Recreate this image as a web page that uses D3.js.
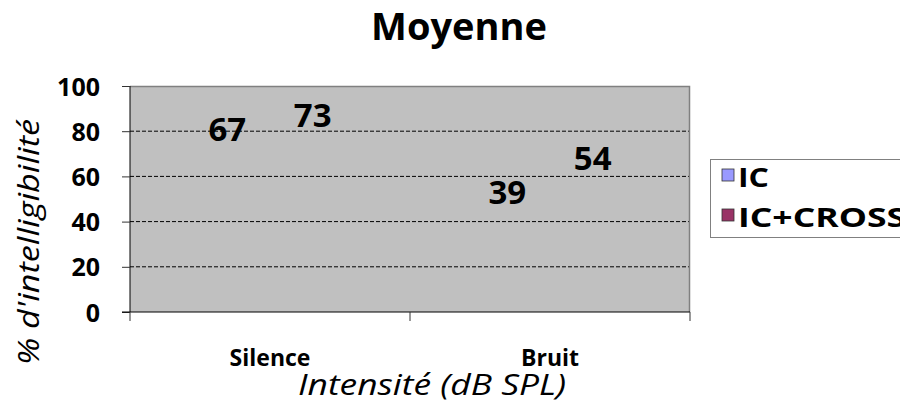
<!DOCTYPE html>
<html>
<head>
<meta charset="utf-8">
<script src="https://cdn.jsdelivr.net/npm/d3@7"></script>
<style>
  body { margin: 0; background: #fff; }
  svg { font-family: 'Open Sans', sans-serif; }
</style>
</head>
<body>
<svg id="chart" width="900" height="404"></svg>
<script>
const categories = ['Silence', 'Bruit'];
const seriesNames = ['IC', 'IC+CROSS'];
const seriesColours = ['#9999ff', '#993366'];
const icValues = [67, 39];
const crossValues = [73, 54];
const yTicks = [0, 20, 40, 60, 80, 100];

const margin = { top: 86, left: 130, bottom: 92, right: 210 };
const width = 900;
const height = 404;

const svg = d3.select('#chart');

const x = d3.scaleBand()
  .domain(categories)
  .range([margin.left, width - margin.right]);

const y = d3.scaleLinear()
  .domain([0, 100])
  .range([height - margin.bottom, margin.top]);

// plot area
svg.append('rect')
  .attr('x', x.range()[0])
  .attr('y', y(100))
  .attr('width', x.range()[1] - x.range()[0])
  .attr('height', y(0) - y(100))
  .attr('fill', '#c0c0c0');

// grid
svg.append('g')
  .selectAll('line')
  .data(yTicks.filter(d => d > 0 && d < 100))
  .enter()
  .append('line')
  .attr('x1', x.range()[0])
  .attr('x2', x.range()[1])
  .attr('y1', d => y(d))
  .attr('y2', d => y(d))
  .attr('stroke', '#000')
  .attr('stroke-dasharray', '4,2');

// top + right border
svg.append('path')
  .attr('d', `M${x.range()[0]},${y(100) + 0.5}H${x.range()[1] - 0.5}V${y(0)}`)
  .attr('fill', 'none')
  .attr('stroke', '#808080')
  .attr('stroke-width', 1.5);

// y axis
const yAxis = svg.append('g')
  .attr('transform', `translate(${x.range()[0]},0)`)
  .call(d3.axisLeft(y).tickValues(yTicks).tickSize(8).tickPadding(22));
yAxis.select('.domain').attr('stroke', '#000').attr('d', `M0,${y(100)}V${y(0)}`);
yAxis.selectAll('.tick line').attr('stroke', '#333');
yAxis.selectAll('text')
  .attr('font-size', 25)
  .attr('font-weight', 'bold')
  .attr('font-family', 'Open Sans')
  .attr('dy', '0.36em')
  .attr('fill', '#000');

// x axis
const xAxis = svg.append('g')
  .attr('transform', `translate(0,${y(0)})`)
  .call(d3.axisBottom(x).tickSize(0).tickPadding(38));
xAxis.select('.domain').attr('stroke', '#000').attr('d', `M${x.range()[0] - 8},0H${x.range()[1]}`);
xAxis.selectAll('text')
  .attr('font-size', 23)
  .attr('font-weight', 'bold')
  .attr('font-family', 'Open Sans')
  .attr('fill', '#000');

// category separators
const sep = [x.range()[0], ...categories.slice(1).map(c => x(c)), x.range()[1]];
svg.append('g')
  .selectAll('line')
  .data(sep)
  .enter()
  .append('line')
  .attr('x1', d => d)
  .attr('x2', d => d)
  .attr('y1', y(0))
  .attr('y2', y(0) + 9)
  .attr('stroke', '#333');

// value labels (the bars themselves are not drawn in the source)
const xSub = d3.scaleBand()
  .domain(seriesNames)
  .range([0, x.bandwidth()])
  .paddingInner(0)
  .paddingOuter(0.64);

const labelData = [];
categories.forEach((c, i) => {
  labelData.push({ cat: c, s: seriesNames[0], v: icValues[i] });
  labelData.push({ cat: c, s: seriesNames[1], v: crossValues[i] });
});

svg.append('g')
  .selectAll('text')
  .data(labelData)
  .enter()
  .append('text')
  .attr('x', d => x(d.cat) + xSub(d.s) + xSub.bandwidth() / 2)
  .attr('y', d => y(d.v) - 20)
  .attr('text-anchor', 'middle')
  .attr('font-size', 33)
  .attr('font-weight', 'bold')
  .attr('fill', '#000')
  .text(d => d.v);

// title
svg.append('text')
  .attr('x', 459)
  .attr('y', 40)
  .attr('text-anchor', 'middle')
  .attr('font-size', 38)
  .attr('font-weight', 'bold')
  .text('Moyenne');

// axis titles
svg.append('text')
  .attr('transform', 'translate(39,242) rotate(-90)')
  .attr('text-anchor', 'middle')
  .attr('font-size', 30)
  .attr('font-style', 'italic')
  .attr('textLength', 246)
  .attr('lengthAdjust', 'spacingAndGlyphs')
  .text("% d'intelligibilité");

svg.append('text')
  .attr('x', 432)
  .attr('y', 395)
  .attr('text-anchor', 'middle')
  .attr('font-size', 30)
  .attr('font-style', 'italic')
  .attr('textLength', 268)
  .attr('lengthAdjust', 'spacingAndGlyphs')
  .text('Intensité (dB SPL)');

// legend
const legend = svg.append('g').attr('transform', 'translate(710,159)');
legend.append('rect')
  .attr('x', 0.5)
  .attr('y', 0.5)
  .attr('width', 200)
  .attr('height', 78)
  .attr('fill', '#fff')
  .attr('stroke', '#808080');
const legendWidths = [31, 168];
const item = legend.selectAll('.item')
  .data(seriesNames)
  .enter()
  .append('g')
  .attr('transform', (d, i) => `translate(12,${10 + i * 40})`);
item.append('rect')
  .attr('width', 12)
  .attr('height', 12)
  .attr('fill', (d, i) => seriesColours[i])
  .attr('stroke', '#333')
  .attr('stroke-width', 0.8);
item.append('text')
  .attr('x', 16)
  .attr('y', 18)
  .attr('font-size', 27)
  .attr('font-weight', 'bold')
  .attr('textLength', (d, i) => legendWidths[i])
  .attr('lengthAdjust', 'spacingAndGlyphs')
  .text(d => d);
</script>
</body>
</html>
